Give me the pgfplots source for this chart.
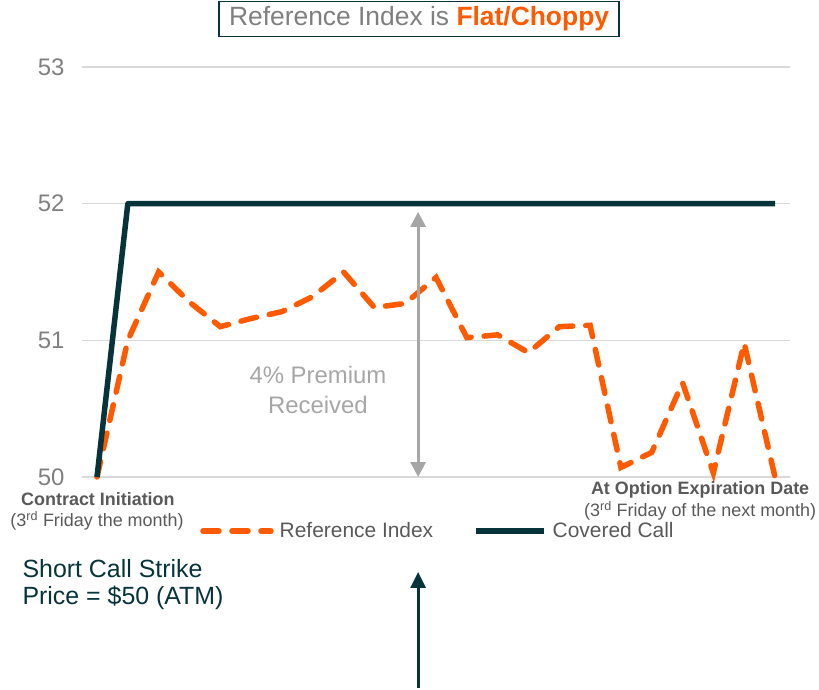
\documentclass[border=0pt]{standalone}
\usepackage{pgfplots}
\usepackage{pgfplotstable}
\pgfplotsset{compat=1.18}
\usepackage{fontspec}
\setmainfont{Liberation Sans}
\usetikzlibrary{arrows.meta}

\definecolor{reforange}{HTML}{FF5A00}
\definecolor{ccteal}{HTML}{07343A}
\definecolor{txtgray}{HTML}{7F7F7F}
\definecolor{lblgray}{HTML}{595959}
\definecolor{gridgray}{HTML}{D9D9D9}
\definecolor{arrgray}{HTML}{A6A6A6}

% reference index, one point per trading day
\pgfplotstableread{
t idx
0 50.00
1 51.00
2 51.50
3 51.28
4 51.10
5 51.16
6 51.21
7 51.32
8 51.50
9 51.24
10 51.27
11 51.46
12 51.02
13 51.04
14 50.91
15 51.10
16 51.11
17 50.07
18 50.18
19 50.69
20 50.03
21 50.98
22 50.00
}\refindex

\begin{document}
\begin{tikzpicture}
  \useasboundingbox (-82bp,-213bp) rectangle (737bp,477bp);
  \begin{axis}[
      at={(0,0)}, anchor=south west,
      scale only axis,
      width=708bp, height=410bp,
      xmin=-0.487, xmax=22.487,
      ymin=50, ymax=53,
      ytick={50,51,52,53},
      xtick=\empty,
      ymajorgrids,
      grid style={draw=gridgray, line width=1.3bp},
      axis line style={draw=none},
      tick style={draw=none},
      clip=false,
      /pgf/number format/assume math mode=true,
      yticklabel style={font=\fontsize{24}{28}\selectfont, text=txtgray,
                        anchor=east, xshift=-14bp},
      legend columns=2,
      legend style={at={(0.1667,-0.1317)}, anchor=west, draw=none, fill=none,
                    inner sep=0pt, font=\fontsize{21}{25}\selectfont,
                    text=lblgray,
                    nodes={inner xsep=6bp, inner ysep=0pt},
                    /tikz/every even column/.append style={column sep=34bp}},
      legend image code/.code={\draw[#1] (0bp,0bp) -- (68bp,0bp);},
    ]
    \addplot[reforange, line width=5.5bp, line cap=round,
             dash pattern=on 16bp off 13bp] table[x=t, y=idx] {\refindex};
    \addplot[ccteal, line width=5.5bp, line join=round]
      coordinates {(0,50) (1,52) (22,52)};
    \legend{Reference Index, Covered Call}

    % premium arrow
    \draw[arrgray, line width=3bp,
          {Triangle[length=15bp, width=15bp]}-{Triangle[length=15bp, width=15bp]}]
      (axis cs:10.42,51.94) -- (axis cs:10.42,50.0);
    \node[text=arrgray, font=\fontsize{24}{28}\selectfont]
      at (axis cs:7.17,50.746) {4\% Premium};
    \node[text=arrgray, font=\fontsize{24}{28}\selectfont]
      at (axis cs:7.17,50.527) {Received};

    % title box
    \node[draw=ccteal, line width=1.5bp, fill=white, inner xsep=10bp,
          inner ysep=0pt, minimum height=35bp,
          font=\fontsize{26.5}{30}\selectfont]
      at (axis cs:10.45,53.35)
      {\textcolor{txtgray}{Reference Index is }\textcolor{reforange}{\bfseries Flat/Choppy}};

    % start and end labels
    \node[text=lblgray, font=\bfseries\fontsize{18}{21}\selectfont]
      at (axis cs:0.03,49.84) {Contract Initiation};
    \node[text=lblgray, font=\fontsize{18}{21}\selectfont]
      at (axis cs:0.0,49.68) {(3\textsuperscript{rd} Friday the month)};
    \node[text=lblgray, font=\bfseries\fontsize{18}{21}\selectfont]
      at (axis cs:19.57,49.905) {At Option Expiration Date};
    \node[text=lblgray, font=\fontsize{18}{21}\selectfont]
      at (axis cs:19.57,49.75) {(3\textsuperscript{rd} Friday of the next month)};

    % strike note and arrow
    \node[text=ccteal, anchor=west, font=\fontsize{25}{29}\selectfont]
      at (axis cs:-2.53,49.327) {Short Call Strike};
    \node[text=ccteal, anchor=west, font=\fontsize{25}{29}\selectfont]
      at (axis cs:-2.53,49.115) {Price = \$50 (ATM)};
    \draw[ccteal, line width=3bp, -{Triangle[length=16bp, width=15bp]}]
      (axis cs:10.42,48.456) -- (axis cs:10.42,49.305);
  \end{axis}
\end{tikzpicture}
\end{document}
